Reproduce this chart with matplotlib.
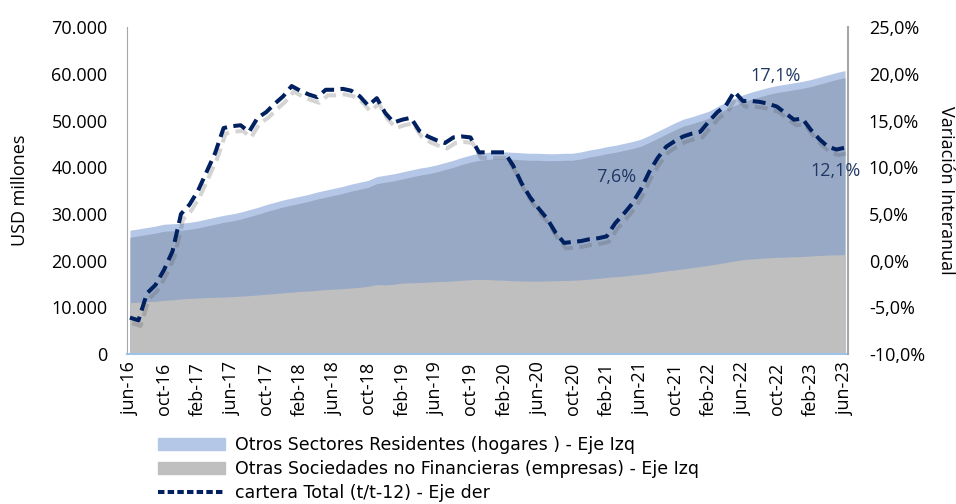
import numpy as np
import matplotlib
matplotlib.use("Agg")
import matplotlib.pyplot as plt
import matplotlib.patheffects as pe
from matplotlib.transforms import ScaledTranslation
from matplotlib.ticker import FuncFormatter
from matplotlib.patches import Patch
from matplotlib.lines import Line2D

# datos mensuales jun-16 .. jun-23 (USD millones y %)
empresas = [11000, 11100, 11200, 11300, 11500, 11600, 11800, 11900,
            12000, 12100, 12150, 12200, 12300, 12400, 12500, 12650,
            12800, 12950, 13100, 13250, 13400, 13500, 13650, 13800,
            13900, 14000, 14150, 14300, 14500, 14900, 14800, 14950,
            15200, 15250, 15300, 15400, 15500, 15550, 15650, 15800,
            15900, 16000, 15950, 15850, 15800, 15700, 15650, 15600,
            15600, 15650, 15700, 15750, 15800, 15900, 16050, 16200,
            16400, 16550, 16700, 16900, 17100, 17300, 17550, 17800,
            18000, 18250, 18500, 18750, 19000, 19300, 19600, 19900,
            20200, 20350, 20500, 20600, 20700, 20750, 20850, 20900,
            21000, 21100, 21200, 21250, 21300]
total_stock = [26500, 26800, 27100, 27400, 27800, 27900, 28000, 28200,
               28500, 28900, 29300, 29700, 30000, 30400, 30900, 31400,
               32000, 32500, 33000, 33400, 33800, 34200, 34700, 35100,
               35500, 35900, 36400, 36800, 37200, 38000, 38300, 38600,
               39000, 39400, 39800, 40100, 40500, 41000, 41500, 42100,
               42600, 43000, 43200, 43300, 43300, 43200, 43100, 43000,
               43000, 42900, 42900, 43000, 43000, 43300, 43700, 44000,
               44400, 44700, 45100, 45500, 46000, 46800, 47700, 48600,
               49500, 50300, 50800, 51400, 52000, 53000, 53900, 54700,
               55500, 56100, 56600, 57100, 57500, 57800, 58100, 58400,
               58800, 59300, 59800, 60300, 60700]
variacion = [-6.1, -6.4, -3.5, -2.6, -1.0, 1.0, 5.0, 6.0,
             7.5, 9.5, 11.5, 14.2, 14.4, 14.5, 13.8, 15.3,
             15.9, 16.8, 17.6, 18.7, 18.2, 17.8, 17.5, 18.3,
             18.3, 18.4, 18.2, 17.6, 16.6, 17.4, 15.8, 14.8,
             15.1, 15.3, 13.9, 13.3, 12.9, 12.6, 13.2, 13.3,
             13.2, 11.6, 11.6, 11.6, 11.6, 10.2, 8.3, 6.8,
             5.6, 4.5, 3.0, 1.9, 2.0, 2.1, 2.3, 2.4,
             2.6, 4.0, 5.0, 6.1, 7.6, 9.5, 11.0, 12.2,
             12.8, 13.3, 13.6, 13.8, 14.9, 15.9, 16.6, 18.1,
             17.1, 17.1, 17.0, 16.8, 16.5, 15.8, 15.1, 15.2,
             14.0, 13.0, 12.2, 11.9, 12.1]
# etiquetas de datos: indice -> (texto, desplazamiento px)
etiquetas = {60: ('7,6%', -25, 13), 72: ('17,1%', 33, 25), 84: ('12,1%', -9, -23)}
nombres_tick = {0: 'jun', 4: 'oct', 8: 'feb'}

empresas = np.array(empresas)
hogares = np.array(total_stock) - empresas
x = np.arange(len(empresas))
tick_pos = x[::4]
tick_lab = []
for i in tick_pos:
    anio = 16 + (i + 5) // 12
    tick_lab.append('%s-%d' % (nombres_tick[i % 12], anio))

plt.rcParams['font.family'] = ['Open Sans', 'DejaVu Sans']

fig = plt.figure(figsize=(9.56, 5.04), dpi=100)
ax = fig.add_axes([0.1328, 0.2976, 0.7542, 0.6484])

c_hog = '#b4c7e7'
c_hog_osc = '#98a9c6'
c_emp = '#bfbfbf'
c_linea = '#002060'

# area hogares (apilada sobre empresas) con efecto sombra
ax.fill_between(x, 0, empresas + hogares, color=c_hog, lw=0)
sombra = ax.fill_between(x, 0, empresas + hogares, color=c_hog_osc, lw=0)
sombra.set_transform(ax.transData + ScaledTranslation(0, -7 / 100, fig.dpi_scale_trans))
ax.fill_between(x, 0, empresas, color=c_emp, lw=0)

ax.set_xlim(-0.35, 84.35)
ax.set_ylim(0, 70000)
ax.set_yticks(np.arange(0, 70001, 10000))
ax.yaxis.set_major_formatter(FuncFormatter(lambda v, p: '{:,.0f}'.format(v).replace(',', '.')))
ax.set_xticks(tick_pos)
ax.set_xticklabels(tick_lab, rotation=90)
ax.tick_params(length=0, labelsize=13, pad=6)
ax.tick_params(axis='y', pad=14)
for s in ['top', 'right']:
    ax.spines[s].set_visible(False)
ax.spines['left'].set_color('#a6a6a6')
ax.spines['bottom'].set_color('#9dc3e6')
ax.spines['bottom'].set_linewidth(1.5)
ax.set_ylabel('USD millones', fontsize=13, labelpad=16)

ax2 = ax.twinx()
ax2.set_ylim(-10, 25)
ax2.set_yticks(np.arange(-10, 25.1, 5))
ax2.yaxis.set_major_formatter(FuncFormatter(lambda v, p: ('%.1f%%' % v).replace('.', ',')))
ax2.tick_params(length=0, labelsize=13, pad=15)
for s in ['top', 'left', 'bottom']:
    ax2.spines[s].set_visible(False)
ax2.spines['right'].set_color('#a6a6a6')
ax2.spines['right'].set_linewidth(1.5)
ax2.set_ylabel('Variación Interanual', fontsize=13, rotation=-90, labelpad=22)

ax2.plot(x, variacion, color=c_linea, lw=2.9, ls=(0, (3.2, 1.6)), dash_capstyle='butt',
         path_effects=[pe.SimpleLineShadow(offset=(1.5, -4), shadow_color='#555555', alpha=0.25),
                       pe.Normal()])
for i, (txt, dx, dy) in etiquetas.items():
    ax2.annotate(txt, (x[i], variacion[i]), xytext=(dx, dy), textcoords='offset pixels',
                 ha='center', va='center', fontsize=13, color='#1f3864')

# leyenda
handles = [Patch(color=c_hog), Patch(color=c_emp),
           Line2D([], [], color=c_linea, lw=2.9, ls=(0, (1.6, 0.8)))]
labels = ['Otros Sectores Residentes (hogares ) - Eje Izq',
          'Otras Sociedades no Financieras (empresas) - Eje Izq',
          'cartera Total (t/t-12) - Eje der']
fig.legend(handles, labels, loc='upper left', bbox_to_anchor=(0.165, 0.135), frameon=False,
           handlelength=3.9, handleheight=0.75, labelspacing=0.35,
           handletextpad=0.55, borderaxespad=0, borderpad=0,
           prop={'family': ['DejaVu Sans'], 'size': 12.5})

fig.savefig('out.png', dpi=100)
